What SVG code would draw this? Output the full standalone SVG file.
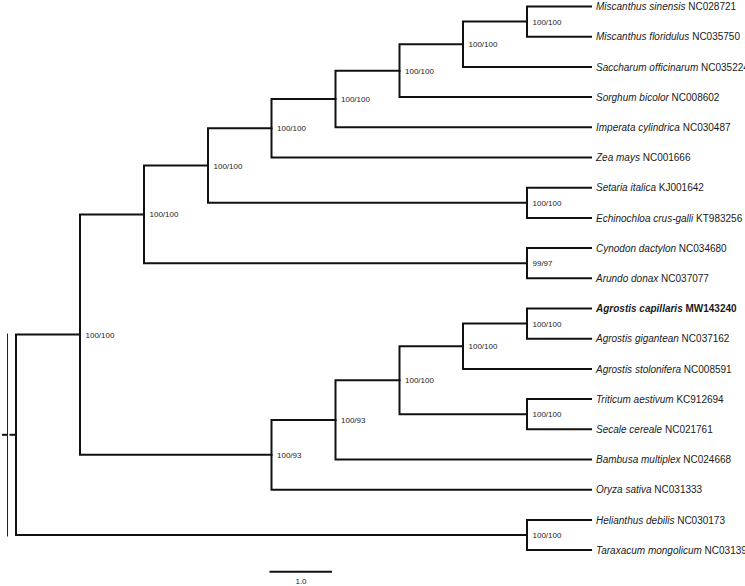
<svg xmlns="http://www.w3.org/2000/svg" width="745" height="586" viewBox="0 0 745 586">
<style>
.br{fill:none;stroke:#111;stroke-width:2;stroke-linecap:square;stroke-linejoin:miter}
.thin{fill:none;stroke:#222;stroke-width:1}
.lf{font-family:"Liberation Sans",Arial,sans-serif;font-size:10px;fill:#1a1a1a}
.lf .sp{font-style:italic}
.bs{font-family:"Liberation Sans",Arial,sans-serif;font-size:8px;fill:#222}
.bold{font-weight:bold}
</style>
<rect width="745" height="586" fill="#fff"/>
<g id="connectors">
<path class="br" d="M591,6.5 H527 V36.7 H591"/>
<path class="br" d="M527,21.6 H463 V66.9 H591"/>
<path class="br" d="M463,44.25 H399.5 V97.1 H591"/>
<path class="br" d="M399.5,70.7 H335.5 V127.3 H591"/>
<path class="br" d="M335.5,99 H271.5 V157.5 H591"/>
<path class="br" d="M591,187.7 H527 V217.9 H591"/>
<path class="br" d="M271.5,128.25 H208 V202.8 H527"/>
<path class="br" d="M591,248.1 H527 V278.3 H591"/>
<path class="br" d="M208,165.5 H144 V263.2 H527"/>
<path class="br" d="M591,308.5 H527 V338.7 H591"/>
<path class="br" d="M527,323.6 H463 V368.9 H591"/>
<path class="br" d="M591,399.1 H527 V429.3 H591"/>
<path class="br" d="M463,346.25 H399.5 V414.2 H527"/>
<path class="br" d="M399.5,380.2 H335.5 V459.5 H591"/>
<path class="br" d="M335.5,419.9 H271.5 V489.7 H591"/>
<path class="br" d="M144,214.4 H80 V454.8 H271.5"/>
<path class="br" d="M591,519.9 H527 V550.1 H591"/>
<path class="br" d="M80,334.6 H16 V535 H527"/>
<path class="br" d="M10.5,434.8 H16"/>
<path class="br" d="M3,434.8 H6"/>
<line class="thin" x1="7.5" y1="333.5" x2="7.5" y2="536.5"/>
</g>
<g id="leaves">
<g id="leaf-miscanthus-sinensis"><text class="lf" x="596" y="10.1"><tspan class="sp">Miscanthus sinensis</tspan> NC028721</text></g>
<g id="leaf-miscanthus-floridulus"><text class="lf" x="596" y="40.3"><tspan class="sp">Miscanthus floridulus</tspan> NC035750</text></g>
<g id="leaf-saccharum"><text class="lf" x="596" y="70.5"><tspan class="sp">Saccharum officinarum</tspan> NC035224</text></g>
<g id="leaf-sorghum"><text class="lf" x="596" y="100.7"><tspan class="sp">Sorghum bicolor</tspan> NC008602</text></g>
<g id="leaf-imperata"><text class="lf" x="596" y="130.9"><tspan class="sp">Imperata cylindrica</tspan> NC030487</text></g>
<g id="leaf-zea"><text class="lf" x="596" y="161.1"><tspan class="sp">Zea mays</tspan> NC001666</text></g>
<g id="leaf-setaria"><text class="lf" x="596" y="191.3"><tspan class="sp">Setaria italica</tspan> KJ001642</text></g>
<g id="leaf-echinochloa"><text class="lf" x="596" y="221.5"><tspan class="sp">Echinochloa crus-galli</tspan> KT983256</text></g>
<g id="leaf-cynodon"><text class="lf" x="596" y="251.7"><tspan class="sp">Cynodon dactylon</tspan> NC034680</text></g>
<g id="leaf-arundo"><text class="lf" x="596" y="281.9"><tspan class="sp">Arundo donax</tspan> NC037077</text></g>
<g id="leaf-agrostis-capillaris"><text class="lf bold" x="596" y="312.1"><tspan class="sp">Agrostis capillaris</tspan> MW143240</text></g>
<g id="leaf-agrostis-gigantean"><text class="lf" x="596" y="342.3"><tspan class="sp">Agrostis gigantean</tspan> NC037162</text></g>
<g id="leaf-agrostis-stolonifera"><text class="lf" x="596" y="372.5"><tspan class="sp">Agrostis stolonifera</tspan> NC008591</text></g>
<g id="leaf-triticum"><text class="lf" x="596" y="402.7"><tspan class="sp">Triticum aestivum</tspan> KC912694</text></g>
<g id="leaf-secale"><text class="lf" x="596" y="432.9"><tspan class="sp">Secale cereale</tspan> NC021761</text></g>
<g id="leaf-bambusa"><text class="lf" x="596" y="463.1"><tspan class="sp">Bambusa multiplex</tspan> NC024668</text></g>
<g id="leaf-oryza"><text class="lf" x="596" y="493.3"><tspan class="sp">Oryza sativa</tspan> NC031333</text></g>
<g id="leaf-helianthus"><text class="lf" x="596" y="523.5"><tspan class="sp">Helianthus debilis</tspan> NC030173</text></g>
<g id="leaf-taraxacum"><text class="lf" x="596" y="553.7"><tspan class="sp">Taraxacum mongolicum</tspan> NC03139</text></g>
</g>
<g id="support">
<g id="n1"><text class="bs" x="532.5" y="24.6">100/100</text></g>
<g id="n2"><text class="bs" x="468.5" y="47.2">100/100</text></g>
<g id="n3"><text class="bs" x="405" y="73.7">100/100</text></g>
<g id="n4"><text class="bs" x="341" y="102">100/100</text></g>
<g id="n5"><text class="bs" x="277" y="131.2">100/100</text></g>
<g id="n6"><text class="bs" x="532.5" y="205.8">100/100</text></g>
<g id="n7"><text class="bs" x="213.5" y="168.5">100/100</text></g>
<g id="n8"><text class="bs" x="532.5" y="266.2">99/97</text></g>
<g id="n9"><text class="bs" x="149.5" y="217.4">100/100</text></g>
<g id="n10"><text class="bs" x="532.5" y="326.6">100/100</text></g>
<g id="n11"><text class="bs" x="468.5" y="349.2">100/100</text></g>
<g id="n12"><text class="bs" x="532.5" y="417.2">100/100</text></g>
<g id="n13"><text class="bs" x="405" y="383.2">100/100</text></g>
<g id="n14"><text class="bs" x="341" y="422.9">100/93</text></g>
<g id="n15"><text class="bs" x="277" y="457.8">100/93</text></g>
<g id="n16"><text class="bs" x="85.5" y="337.6">100/100</text></g>
<g id="n17"><text class="bs" x="532.5" y="538">100/100</text></g>
</g>
<g id="scale">
<line class="br" x1="269.5" y1="571.7" x2="332" y2="571.7" style="stroke-linecap:butt"/>
<text class="bs" x="301" y="584" text-anchor="middle">1.0</text>
</g>
</svg>
